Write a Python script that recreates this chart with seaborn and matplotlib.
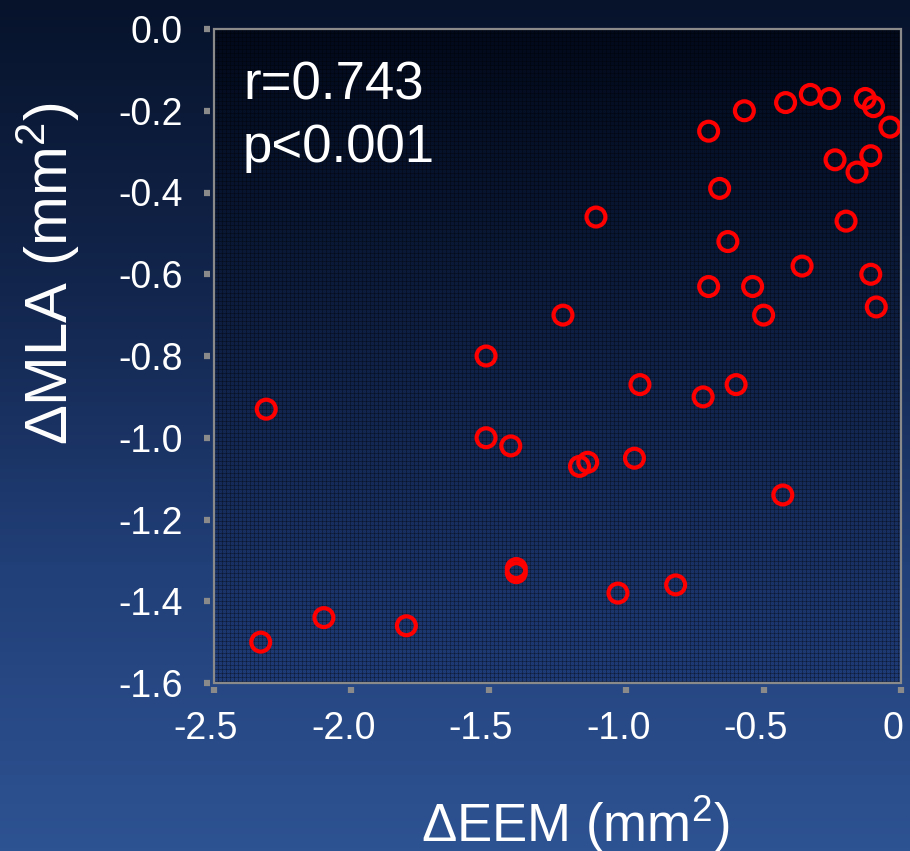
import numpy as np
import pandas as pd
import matplotlib
matplotlib.use("Agg")
import matplotlib.pyplot as plt
import matplotlib.transforms as mtransforms
from matplotlib.colors import LinearSegmentedColormap
import seaborn as sns

# Change in EEM area vs change in MLA (both mm^2)
delta_eem = [-2.33, -2.31, -2.10, -1.80, -1.51, -1.51, -1.42, -1.40, -1.40,
             -1.23, -1.17, -1.14, -1.11, -1.03, -0.97, -0.95, -0.82, -0.72,
             -0.70, -0.70, -0.66, -0.63, -0.60, -0.57, -0.54, -0.50, -0.43,
             -0.42, -0.36, -0.33, -0.26, -0.24, -0.20, -0.16, -0.13, -0.11,
             -0.11, -0.10, -0.09, -0.04]
delta_mla = [-1.50, -0.93, -1.44, -1.46, -0.80, -1.00, -1.02, -1.32, -1.33,
             -0.70, -1.07, -1.06, -0.46, -1.38, -1.05, -0.87, -1.36, -0.90,
             -0.25, -0.63, -0.39, -0.52, -0.87, -0.20, -0.63, -0.70, -1.14,
             -0.18, -0.58, -0.16, -0.17, -0.32, -0.47, -0.35, -0.17, -0.31,
             -0.60, -0.19, -0.68, -0.24]

x_ticks = [-2.5, -2.0, -1.5, -1.0, -0.5, 0.0]
x_tick_labels = ["-2.5", "-2.0", "-1.5", "-1.0", "-0.5", "0"]
y_ticks = [0.0, -0.2, -0.4, -0.6, -0.8, -1.0, -1.2, -1.4, -1.6]
y_tick_labels = ["0.0", "-0.2", "-0.4", "-0.6", "-0.8", "-1.0", "-1.2", "-1.4", "-1.6"]
stats_lines = ["r=0.743", "p<0.001"]

df = pd.DataFrame({"eem": delta_eem, "mla": delta_mla})

sns.set_theme(style="white")
plt.rcParams["font.family"] = ["Liberation Sans", "DejaVu Sans"]
plt.rcParams["mathtext.fontset"] = "custom"
plt.rcParams["mathtext.rm"] = "Liberation Sans"
plt.rcParams["mathtext.it"] = "Liberation Sans"

W, H, DPI = 910, 851, 100
fig = plt.figure(figsize=(W / DPI, H / DPI), dpi=DPI)

# slide-style vertical gradient behind everything
bg = fig.add_axes([0, 0, 1, 1], zorder=-10)
bg_cmap = LinearSegmentedColormap.from_list(
    "bg", ["#07132b", "#12254c", "#213f78", "#2e5392"])
bg.imshow(np.linspace(0, 1, 256).reshape(-1, 1), aspect="auto",
          cmap=bg_cmap, extent=[0, 1, 0, 1], origin="upper")
bg.set_axis_off()

left, right, top, bottom = 214, 901, 29, 683
ax = fig.add_axes([left / W, 1 - bottom / H, (right - left) / W, (bottom - top) / H])
ax.patch.set_alpha(0)

# plot area fill: dark-to-blue gradient with a fine woven texture
pw, ph = right - left, bottom - top
t = np.linspace(0, 1, ph).reshape(-1, 1)
c_top = np.array([0x02, 0x0a, 0x1c]) / 255
c_bot = np.array([0x20, 0x3e, 0x7c]) / 255
grad = c_top + (c_bot - c_top) * (t[..., None] ** 1.1)
grad = np.repeat(grad, pw, axis=1)
yy, xx = np.mgrid[0:ph, 0:pw]
weave = np.ones((ph, pw))
weave[(xx % 4 == 0)] *= 0.70
weave[(yy % 4 == 0)] *= 0.70
weave[((xx + yy) % 2 == 0)] *= 0.92
img = np.clip(grad * weave[..., None], 0, 1)
ax.imshow(img, extent=[-2.5, 0.0, -1.6, 0.0], aspect="auto",
          interpolation="nearest", zorder=0)

sns.scatterplot(data=df, x="eem", y="mla", ax=ax, marker="o", s=185,
                facecolor="none", edgecolor="#ff0000",
                zorder=3, legend=False)
pts = ax.collections[-1]
pts.set_facecolor("none")
pts.set_edgecolor("#ff0000")
pts.set_linewidth(3.0)

ax.set_xlim(-2.5, 0.0)
ax.set_ylim(-1.6, 0.0)
ax.set_xticks(x_ticks)
ax.set_xticklabels(x_tick_labels)
ax.set_yticks(y_ticks)
ax.set_yticklabels(y_tick_labels)
ax.set_xlabel("")
ax.set_ylabel("")

for side in ["left", "bottom"]:
    ax.spines[side].set_position(("outward", 3))
    ax.spines[side].set_visible(False)
for side in ["right", "top"]:
    ax.spines[side].set_visible(False)

# grey frame around the plotting area
ax.add_patch(plt.Rectangle((0, 0), 1, 1, transform=ax.transAxes, fill=False,
                           edgecolor="#8a8a8a", linewidth=1.6, zorder=4,
                           clip_on=False))

ax.tick_params(axis="both", which="major", direction="out", length=4.5,
               width=4.5, color="#8a8a8a", labelcolor="white", labelsize=27,
               left=True, bottom=True)
ax.tick_params(axis="y", pad=15)
ax.tick_params(axis="x", pad=13)

# category labels sit slightly left of their tick marks
shift = mtransforms.ScaledTranslation(-8 / DPI, 0, fig.dpi_scale_trans)
for lbl in ax.get_xticklabels():
    lbl.set_transform(lbl.get_transform() + shift)

ax.text(243 / W, 1 - 100 / H, stats_lines[0], transform=fig.transFigure,
        color="white", fontsize=38, ha="left", va="baseline")
ax.text(243 / W, 1 - 162 / H, stats_lines[1], transform=fig.transFigure,
        color="white", fontsize=38, ha="left", va="baseline")

fig.text(575 / W, 1 - 842 / H, r"ΔEEM (mm$^2$)", color="white", fontsize=38,
         ha="center", va="baseline")
fig.text(68 / W, 1 - 274 / H, r"ΔMLA (mm$^2$)", color="white", fontsize=43,
         ha="center", va="baseline", rotation=90, rotation_mode="anchor")

fig.savefig("out.png", dpi=DPI)
